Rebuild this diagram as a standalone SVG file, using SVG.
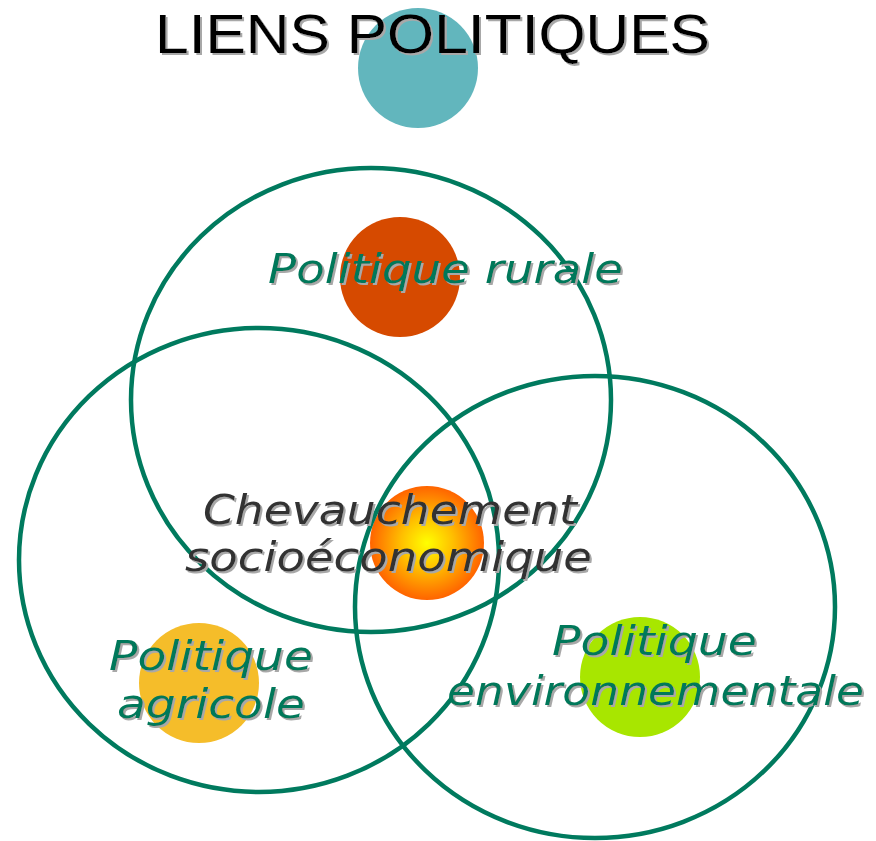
<svg xmlns="http://www.w3.org/2000/svg" width="876" height="841" viewBox="0 0 876 841">
<style>
.ring{fill:none;stroke:#007a5e;stroke-width:4.5}
.lbl{font-family:"DejaVu Sans","Liberation Sans",Arial,sans-serif;font-style:italic;font-size:40px;fill:#00785a}
.dark{fill:#333333}
.title{font-family:"Liberation Sans",Arial,sans-serif;font-size:55px;fill:#000000}
</style>
<defs>
<filter id="sh" x="-10%" y="-30%" width="120%" height="160%">
<feDropShadow dx="2" dy="2" stdDeviation="0.4" flood-color="#a8a8a8" flood-opacity="1"/>
</filter>
<radialGradient id="sun" cx="0.5" cy="0.5" r="0.5">
<stop offset="0" stop-color="#ffff00"/>
<stop offset="0.45" stop-color="#ffc000"/>
<stop offset="1" stop-color="#ff6400"/>
</radialGradient>
</defs>
<g id="title-dot"><circle cx="418" cy="68" r="60" fill="#62b6bd"/></g>
<g id="title"><text class="title" x="155" y="53" textLength="555" lengthAdjust="spacingAndGlyphs" filter="url(#sh)">LIENS POLITIQUES</text></g>
<g id="dots">
<circle id="dot-rural" cx="400" cy="277" r="60" fill="#d64a00"/>
<circle id="dot-agri" cx="199" cy="683" r="60" fill="#f5bd2a"/>
<circle id="dot-env" cx="640" cy="677" r="60" fill="#a8e600"/>
<circle id="dot-center" cx="427" cy="543" r="57" fill="url(#sun)"/>
</g>
<g id="connectors">
<ellipse class="ring" cx="371" cy="400" rx="240" ry="232"/>
<ellipse class="ring" cx="259" cy="560" rx="240" ry="232"/>
<ellipse class="ring" cx="595" cy="607" rx="240" ry="231"/>
</g>
<g id="node-rural"><text class="lbl" x="268" y="283" textLength="355" lengthAdjust="spacingAndGlyphs" filter="url(#sh)">Politique rurale</text></g>
<g id="node-center" filter="url(#sh)">
<text class="lbl dark" x="203" y="524" textLength="374" lengthAdjust="spacingAndGlyphs">Chevauchement</text>
<text class="lbl dark" x="185" y="571" textLength="407" lengthAdjust="spacingAndGlyphs">socioéconomique</text>
</g>
<g id="node-agri" filter="url(#sh)">
<text class="lbl" x="109" y="670" textLength="204" lengthAdjust="spacingAndGlyphs">Politique</text>
<text class="lbl" x="117" y="718" textLength="188" lengthAdjust="spacingAndGlyphs">agricole</text>
</g>
<g id="node-env" filter="url(#sh)">
<text class="lbl" x="552" y="655" textLength="205" lengthAdjust="spacingAndGlyphs">Politique</text>
<text class="lbl" x="447" y="705" textLength="417" lengthAdjust="spacingAndGlyphs">environnementale</text>
</g>
</svg>
